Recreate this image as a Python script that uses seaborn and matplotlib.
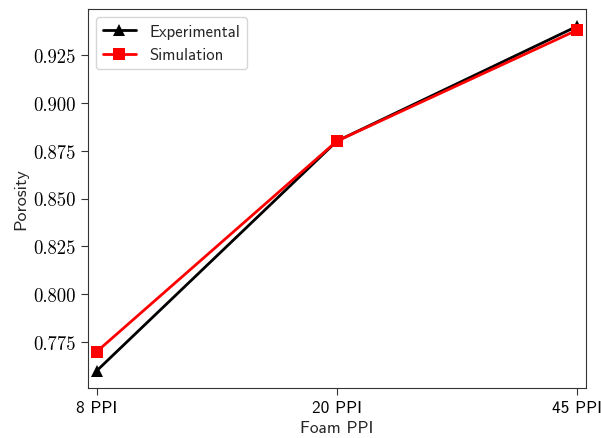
import matplotlib
matplotlib.use("Agg")
import matplotlib.pyplot as plt
import seaborn as sns
import pandas as pd

# datos
foam_ppi = ["8 PPI", "20 PPI", "45 PPI"]
experimental = [0.760, 0.880, 0.940]
simulation = [0.770, 0.880, 0.938]

df = pd.DataFrame({
    "ppi": foam_ppi * 2,
    "porosity": experimental + simulation,
    "serie": ["Experimental"] * 3 + ["Simulation"] * 3,
})

sns.set_style("ticks")
plt.rcParams["font.family"] = ["cmss10", "DejaVu Sans"]
plt.rcParams["axes.unicode_minus"] = False
plt.rcParams["axes.formatter.use_mathtext"] = True

fig = plt.figure(figsize=(6.01, 4.39), dpi=100)
ax = fig.add_axes([0.146, 0.114, 0.829, 0.863])

sns.lineplot(data=df, x="ppi", y="porosity", hue="serie", style="serie",
             markers={"Experimental": "^", "Simulation": "s"}, dashes=False,
             palette={"Experimental": "black", "Simulation": "red"},
             linewidth=2, markersize=8, markeredgewidth=0, ax=ax)

ax.set_xlim(-0.0375, 2.0375)
ax.set_xlabel("Foam PPI", fontsize=12.5)
ax.set_ylabel("Porosity", fontsize=13)
ax.set_yticks([0.775, 0.800, 0.825, 0.850, 0.875, 0.900, 0.925])
ax.set_yticklabels([f"{v:.3f}" for v in ax.get_yticks()], fontfamily="cmr10", fontsize=13.5)
for t in ax.get_xticklabels():
    t.set_fontsize(12.5)
for s in ax.spines.values():
    s.set_color("#333333")
ax.tick_params(colors="#333333", labelcolor="black", length=5)

ax.legend(title=None, loc="upper left", fontsize=12, frameon=True)

fig.savefig("out.png", dpi=100)
